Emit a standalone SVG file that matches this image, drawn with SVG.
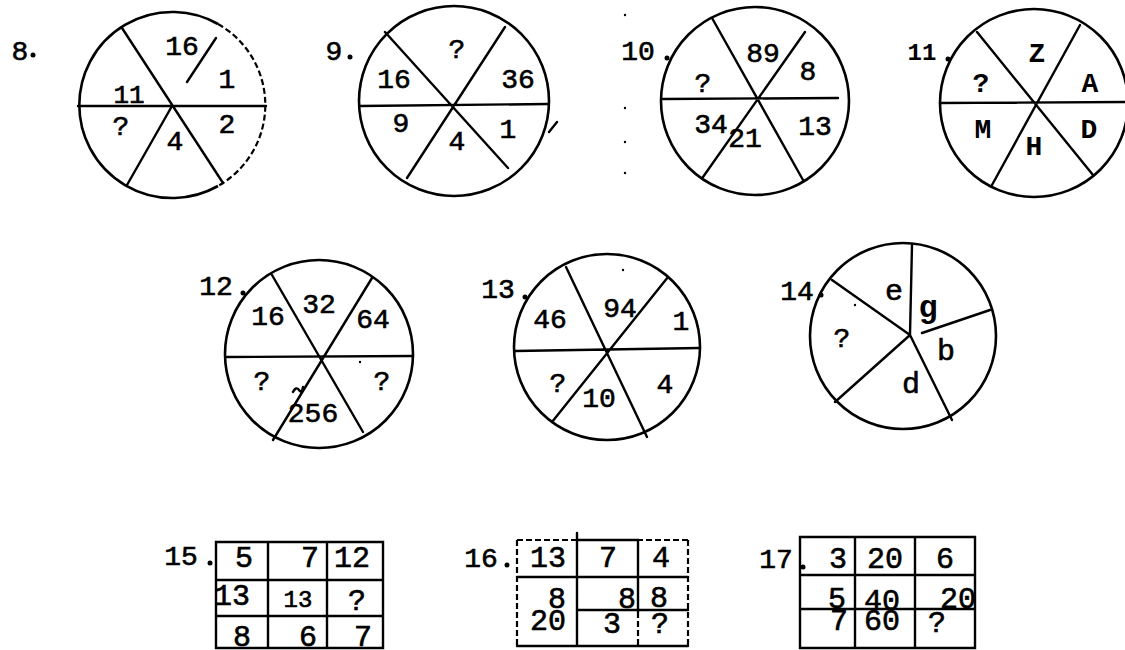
<svg xmlns="http://www.w3.org/2000/svg" width="1125" height="650" viewBox="0 0 1125 650">
<style>
.c{fill:none;stroke:#000;stroke-width:2.6}
.l{fill:none;stroke:#000;stroke-width:2.4;stroke-linecap:round}
.d{fill:none;stroke:#000;stroke-width:2.2;stroke-dasharray:6 3}
.t{font-family:"Liberation Mono","Courier New",monospace;font-size:28px;fill:#000;stroke:#000;stroke-width:0.6;text-anchor:middle}
.b{font-family:"Liberation Mono","Courier New",monospace;font-size:28px;font-weight:bold;fill:#000;text-anchor:middle}
.g{font-family:"Liberation Mono","Courier New",monospace;font-size:30px;fill:#000;stroke:#000;stroke-width:0.6;text-anchor:middle}
.k{fill:#000}
</style>
<rect width="1125" height="650" fill="#fff"/>

<g id="p8">
<path class="c" d="M218 24A93 93 0 1 0 218 186"/>
<path class="d" d="M218 24A93 93 0 0 1 218 186"/>
<path class="l" d="M78 106H266M122 28L223 183M127 185L172 106M187 82L216 38"/>
<text class="t" x="20" y="60">8</text><circle class="k" cx="33" cy="55" r="2.5"/>
<text class="t" x="182" y="55">16</text>
<text class="t" x="227" y="88">1</text>
<text class="t" x="129" y="103" style="font-size:26px">11</text>
<text class="t" x="121" y="135">?</text>
<text class="t" x="175" y="150">4</text>
<text class="t" x="227" y="133">2</text>
</g>

<g id="p9">
<circle class="c" cx="454" cy="101" r="95"/>
<path class="l" d="M360 106L548 104M385 32L508 168M505 27L407 178M549 132L557 122"/>
<text class="t" x="334" y="60">9</text><circle class="k" cx="350" cy="57" r="2.5"/>
<text class="t" x="457" y="58">?</text>
<text class="t" x="394" y="88">16</text>
<text class="t" x="518" y="88">36</text>
<text class="t" x="401" y="132">9</text>
<text class="t" x="457" y="150">4</text>
<text class="t" x="508" y="138">1</text>
</g>

<g id="p10">
<circle class="c" cx="755" cy="101" r="94"/>
<path class="l" d="M663 99L838 98M712 18L803 180M805 32L703 177"/>
<text class="t" x="638" y="60">10</text><circle class="k" cx="667" cy="58" r="2.5"/>
<circle class="k" cx="625" cy="15" r="1.2"/><circle class="k" cx="625" cy="108" r="1.2"/><circle class="k" cx="625" cy="142" r="1.2"/><circle class="k" cx="625" cy="173" r="1.2"/>
<text class="t" x="763" y="62">89</text>
<text class="t" x="808" y="80">8</text>
<text class="t" x="703" y="92">?</text>
<text class="t" x="711" y="133">34</text>
<text class="t" x="745" y="147">21</text>
<text class="t" x="815" y="135">13</text>
</g>

<g id="p11">
<circle class="c" cx="1034" cy="103" r="94"/>
<path class="l" d="M940 103L1125 102M977 32L1093 175M1080 25L992 185"/>
<text class="b" x="922" y="60" style="font-size:24px">11</text><circle class="k" cx="948" cy="59" r="2.5"/>
<text class="b" x="1037" y="62">Z</text>
<text class="b" x="981" y="92">?</text>
<text class="b" x="1090" y="92">A</text>
<text class="b" x="983" y="138">M</text>
<text class="b" x="1034" y="155">H</text>
<text class="b" x="1089" y="138">D</text>
</g>

<g id="p12">
<circle class="c" cx="319" cy="354" r="94"/>
<path class="l" d="M227 357L413 356M272 275L363 432M372 278L273 440M293 392Q296 386 299 390T303 387"/>
<text class="t" x="216" y="295">12</text><circle class="k" cx="243" cy="293" r="2.5"/>
<circle class="k" cx="360" cy="362" r="1.2"/>
<text class="t" x="268" y="325">16</text>
<text class="t" x="319" y="313">32</text>
<text class="t" x="373" y="328">64</text>
<text class="t" x="262" y="390">?</text>
<text class="t" x="382" y="390">?</text>
<text class="t" x="313" y="422">256</text>
</g>

<g id="p13">
<circle class="c" cx="607" cy="347" r="93"/>
<path class="l" d="M515 351L700 348M566 267L647 437M668 277L552 422"/>
<text class="t" x="498" y="298">13</text><circle class="k" cx="525" cy="297" r="2.5"/>
<circle class="k" cx="623" cy="270" r="1.2"/>
<text class="t" x="550" y="328">46</text>
<text class="t" x="620" y="317">94</text>
<text class="t" x="681" y="330">1</text>
<text class="t" x="558" y="392">?</text>
<text class="t" x="599" y="407">10</text>
<text class="t" x="665" y="393">4</text>
</g>

<g id="p14">
<circle class="c" cx="903" cy="336" r="93"/>
<path class="l" d="M910 335L912 245M922 333L990 310M910 335L952 420M910 335L835 402M910 335L832 280"/>
<text class="t" x="797" y="300">14</text><circle class="k" cx="821" cy="295" r="2.5"/>
<circle class="k" cx="855" cy="305" r="1.2"/>
<text class="t" x="894" y="300" style="font-size:30px">e</text>
<text class="b" x="928" y="317" style="font-size:32px">g</text>
<text class="t" x="842" y="347">?</text>
<text class="t" x="946" y="360" style="font-size:30px">b</text>
<text class="t" x="911" y="393" style="font-size:30px">d</text>
</g>

<g id="p15">
<path class="l" d="M216 542H383V648H216ZM216 580H383M216 616H383M268 542V648M327 542V648"/>
<text class="t" x="181" y="565">15</text><circle class="k" cx="210" cy="563" r="2.5"/>
<text class="g" x="244" y="567">5</text>
<text class="g" x="310" y="567">7</text>
<text class="g" x="352" y="567">12</text>
<text class="g" x="232" y="605">13</text>
<text class="t" x="298" y="607" style="font-size:24px">13</text>
<text class="g" x="357" y="610">?</text>
<text class="g" x="242" y="646">8</text>
<text class="g" x="308" y="646">6</text>
<text class="g" x="363" y="646">7</text>
</g>

<g id="p16">
<path class="d" d="M517 540H577M517 540V646M688 540V646M638 612V646M688 540H638"/>
<path class="l" d="M577 533V646M577 540H638V612M517 577H688M577 610H688M517 646H688"/>
<text class="t" x="481" y="567">16</text><circle class="k" cx="507" cy="565" r="2.5"/>
<text class="g" x="548" y="567">13</text>
<text class="g" x="608" y="567">7</text>
<text class="g" x="661" y="567">4</text>
<text class="g" x="557" y="608">8</text>
<text class="g" x="627" y="608">8</text>
<text class="g" x="659" y="607">8</text>
<text class="g" x="548" y="630">20</text>
<text class="g" x="612" y="633">3</text>
<text class="g" x="660" y="633">?</text>
</g>

<g id="p17">
<path class="l" d="M800 537H975V648H800ZM800 575H975M800 609H975M855 537V648M915 537V648"/>
<text class="t" x="776" y="568">17</text><circle class="k" cx="803" cy="567" r="2.5"/>
<text class="g" x="838" y="568">3</text>
<text class="g" x="885" y="568">20</text>
<text class="g" x="945" y="568">6</text>
<text class="g" x="837" y="608">5</text>
<text class="g" x="882" y="610">40</text>
<text class="g" x="958" y="608">20</text>
<text class="g" x="839" y="630">7</text>
<text class="g" x="882" y="630">60</text>
<text class="g" x="937" y="632">?</text>
</g>

<g id="connectors"></g>
</svg>
